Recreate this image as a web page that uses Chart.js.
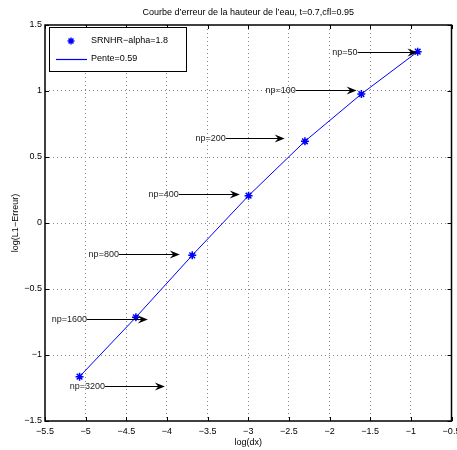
<!DOCTYPE html>
<html>
<head>
<meta charset="utf-8">
<title>Courbe d'erreur</title>
<script src="https://cdn.jsdelivr.net/npm/chart.js@4.4.0/dist/chart.umd.min.js"></script>
<style>
  html, body { margin: 0; padding: 0; background: #fff; }
  canvas { display: block; }
</style>
</head>
<body>
<canvas id="errChart" width="457" height="450"></canvas>
<script>
// data
const npLabels = ['np=50', 'np=100', 'np=200', 'np=400', 'np=800', 'np=1600', 'np=3200'];
const logDx = [-0.916, -1.609, -2.303, -2.996, -3.689, -4.382, -5.075];
const logErr = [1.298, 0.977, 0.619, 0.207, -0.245, -0.714, -1.164];

// annotation arrows (data coords): tail x, head x, y
const arrowTailX = [-1.655, -2.416, -3.276, -3.854, -4.591, -4.984, -4.763];
const arrowHeadX = [-0.918, -1.667, -2.552, -3.104, -3.842, -4.235, -4.026];
const arrowY = [1.298, 1.008, 0.642, 0.220, -0.235, -0.727, -1.235];

const seriesLabels = ['SRNHR\u2212alpha=1.8', 'Pente=0.59'];
const titleText = 'Courbe d\u2019erreur de la hauteur de l\u2019eau, t=0.7,cfl=0.95';
const xTitle = 'log(dx)';
const yTitle = 'log(L1\u2212Erreur)';

const FONT = '9px "Liberation Sans", Arial, Helvetica, sans-serif';
const BLUE = '#0000ff';

const points = logDx.map((v, i) => ({ x: v, y: logErr[i] }));

function minusSign(v) {
    return String(v).replace('-', '\u2212');
}

function drawStar(ctx, cx, cy, r) {
    ctx.beginPath();
    ctx.moveTo(cx - r, cy); ctx.lineTo(cx + r, cy);
    ctx.moveTo(cx, cy - r); ctx.lineTo(cx, cy + r);
    const d = r * 0.707;
    ctx.moveTo(cx - d, cy - d); ctx.lineTo(cx + d, cy + d);
    ctx.moveTo(cx - d, cy + d); ctx.lineTo(cx + d, cy - d);
    ctx.stroke();
}

function drawArrow(ctx, x1, y1, x2, y2) {
    const len = 10, half = 4;
    ctx.beginPath();
    ctx.moveTo(x1, y1);
    ctx.lineTo(x2 - 4, y2);
    ctx.stroke();
    ctx.beginPath();
    ctx.moveTo(x2, y2);
    ctx.lineTo(x2 - len, y2 - half);
    ctx.lineTo(x2 - len * 0.65, y2);
    ctx.lineTo(x2 - len, y2 + half);
    ctx.closePath();
    ctx.fill();
}

// matlab-ish frame, inward ticks, arrows, legend, titles
const decorations = {
    id: 'decorations',
    beforeDraw(chart) {
        const ctx = chart.ctx;
        ctx.save();
        ctx.fillStyle = '#fff';
        ctx.fillRect(0, 0, chart.width, chart.height);
        ctx.restore();
    },
    afterDatasetsDraw(chart) {
        const { ctx, chartArea: a, scales: { x, y } } = chart;
        ctx.save();

        // inward tick marks on all four sides
        ctx.strokeStyle = '#000';
        ctx.lineWidth = 1;
        ctx.beginPath();
        x.ticks.forEach(t => {
            const px = Math.round(x.getPixelForValue(t.value)) + 0.5;
            ctx.moveTo(px, a.bottom); ctx.lineTo(px, a.bottom - 4);
            ctx.moveTo(px, a.top); ctx.lineTo(px, a.top + 4);
        });
        y.ticks.forEach(t => {
            const py = Math.round(y.getPixelForValue(t.value)) + 0.5;
            ctx.moveTo(a.left, py); ctx.lineTo(a.left + 4, py);
            ctx.moveTo(a.right, py); ctx.lineTo(a.right - 4, py);
        });
        ctx.stroke();

        // box
        ctx.lineWidth = 1.5;
        ctx.strokeRect(a.left, a.top, a.right - a.left, a.bottom - a.top);

        // arrows with np labels
        ctx.font = FONT;
        ctx.strokeStyle = '#000';
        ctx.lineWidth = 1;
        ctx.textAlign = 'right';
        ctx.textBaseline = 'middle';
        npLabels.forEach((lab, i) => {
            const x1 = x.getPixelForValue(arrowTailX[i]);
            const x2 = x.getPixelForValue(arrowHeadX[i]);
            const py = Math.round(y.getPixelForValue(arrowY[i])) + 0.5;
            ctx.fillStyle = '#000';
            drawArrow(ctx, x1, py, x2, py);
            ctx.fillStyle = '#222';
            ctx.fillText(lab, x1, py);
        });

        // legend box
        const lx = a.left + 4, ly = a.top + 2, lw = 137, lh = 44;
        ctx.fillStyle = '#fff';
        ctx.fillRect(lx, ly, lw, lh);
        ctx.strokeStyle = '#000';
        ctx.lineWidth = 1;
        ctx.strokeRect(lx + 0.5, ly + 0.5, lw, lh);
        ctx.strokeStyle = BLUE;
        ctx.lineWidth = 1.5;
        drawStar(ctx, lx + 22, ly + 14, 3.5);
        ctx.lineWidth = 1.2;
        ctx.beginPath();
        ctx.moveTo(lx + 7, ly + 32.5);
        ctx.lineTo(lx + 38, ly + 32.5);
        ctx.stroke();
        ctx.fillStyle = '#000';
        ctx.textAlign = 'left';
        ctx.fillText(seriesLabels[0], lx + 42, ly + 14);
        ctx.fillText(seriesLabels[1], lx + 42, ly + 32);

        // titles
        ctx.textAlign = 'center';
        ctx.fillText(titleText, (a.left + a.right) / 2, 13);
        ctx.fillText(xTitle, (a.left + a.right) / 2, 443);
        ctx.translate(16, (a.top + a.bottom) / 2);
        ctx.rotate(-Math.PI / 2);
        ctx.fillText(yTitle, 0, 0);
        ctx.restore();
    }
};

new Chart(document.getElementById('errChart').getContext('2d'), {
    type: 'scatter',
    data: {
        datasets: [
            {
                label: seriesLabels[0],
                data: points,
                showLine: false,
                pointStyle: 'star',
                pointRadius: 4,
                pointBorderWidth: 1.5,
                pointBorderColor: BLUE,
                pointBackgroundColor: BLUE,
                borderColor: BLUE
            },
            {
                label: seriesLabels[1],
                data: points,
                showLine: true,
                borderColor: BLUE,
                borderWidth: 1,
                pointRadius: 0,
                tension: 0
            }
        ]
    },
    options: {
        responsive: false,
        animation: false,
        layout: {
            padding: { top: 25, right: 5, left: 0, bottom: 0 }
        },
        plugins: {
            legend: { display: false },
            title: { display: false },
            tooltip: { enabled: false }
        },
        scales: {
            x: {
                type: 'linear',
                min: -5.5,
                max: -0.5,
                afterFit: scale => {
                    scale.height = 29;
                    scale.paddingLeft = 0;
                    scale.paddingRight = 0;
                },
                grid: {
                    color: ctx => (ctx.index === 0 || ctx.index === 10) ? 'rgba(0,0,0,0)' : '#888',
                    lineWidth: 1,
                    drawTicks: false
                },
                border: { display: false, dash: [1, 3] },
                ticks: {
                    stepSize: 0.5,
                    autoSkip: false,
                    maxRotation: 0,
                    padding: 5,
                    color: '#000',
                    font: { family: '"Liberation Sans", Arial, sans-serif', size: 9 },
                    callback: v => minusSign(v)
                }
            },
            y: {
                type: 'linear',
                min: -1.5,
                max: 1.5,
                afterFit: scale => {
                    scale.width = 45;
                    scale.paddingTop = 0;
                    scale.paddingBottom = 0;
                },
                grid: {
                    color: ctx => (ctx.index === 0 || ctx.index === 6) ? 'rgba(0,0,0,0)' : '#888',
                    lineWidth: 1,
                    drawTicks: false
                },
                border: { display: false, dash: [1, 3] },
                ticks: {
                    stepSize: 0.5,
                    autoSkip: false,
                    padding: 3,
                    color: '#000',
                    font: { family: '"Liberation Sans", Arial, sans-serif', size: 9 },
                    callback: v => minusSign(v)
                }
            }
        }
    },
    plugins: [decorations]
});
</script>
</body>
</html>
